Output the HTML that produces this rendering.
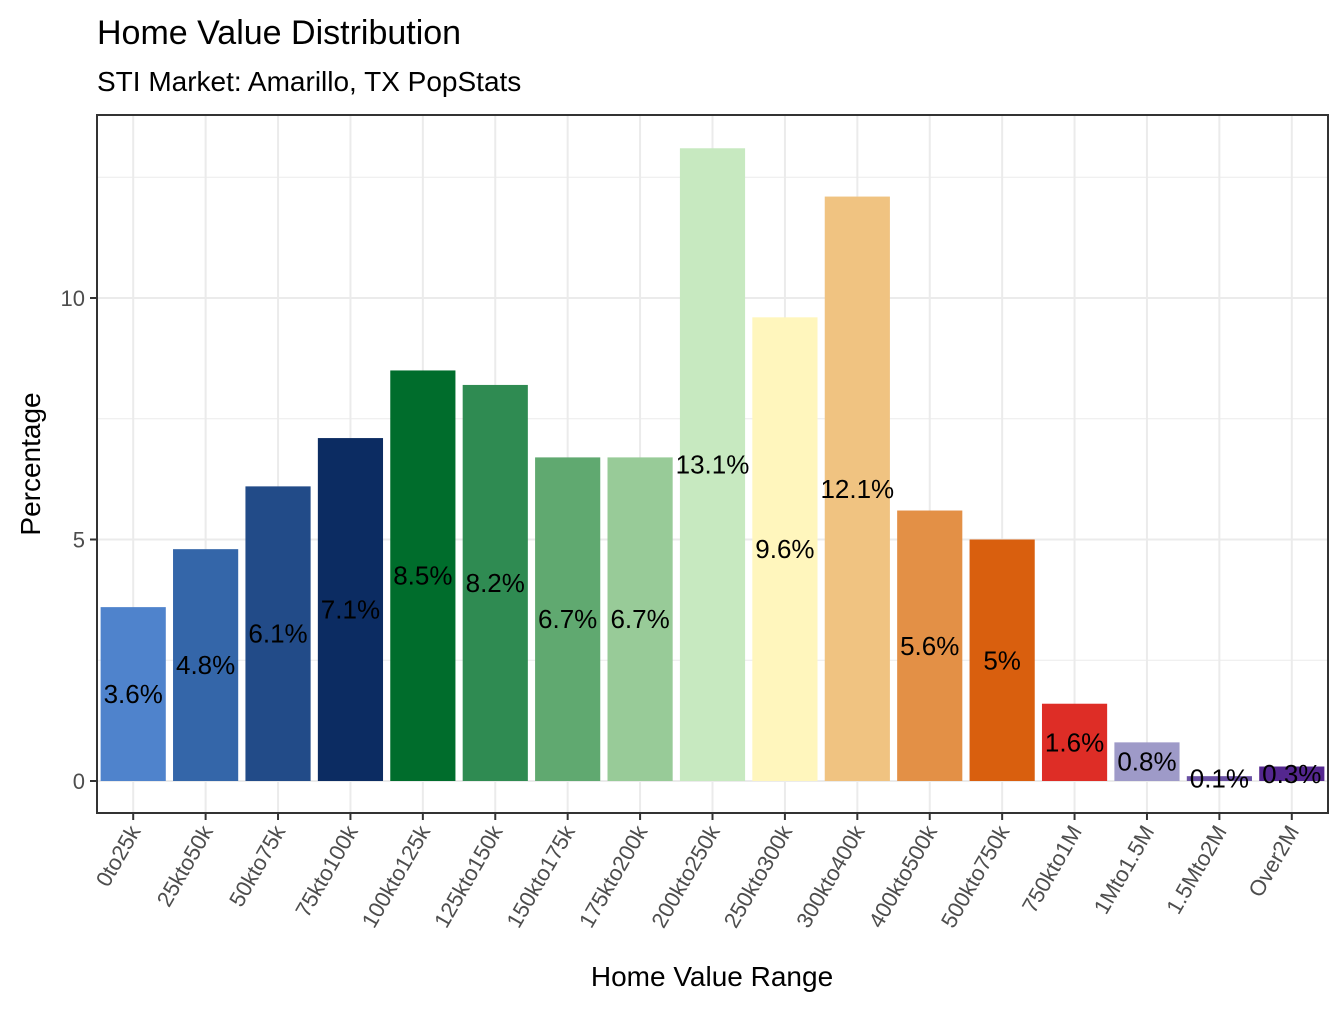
<!DOCTYPE html>
<html><head><meta charset="utf-8"><style>
body{margin:0;background:#fff}
svg text{font-family:"Liberation Sans",Arial,sans-serif}
</style></head><body>
<svg id="chart" width="1344" height="1008" viewBox="0 0 1344 1008" xmlns="http://www.w3.org/2000/svg">
<text x="97" y="44" font-size="34" fill="#000">Home Value Distribution</text>
<text x="97" y="91" font-size="28" fill="#000">STI Market: Amarillo, TX PopStats</text>
<text transform="translate(40,464) rotate(-90)" text-anchor="middle" font-size="28" fill="#000">Percentage</text>
<text x="712" y="986" text-anchor="middle" font-size="28" fill="#000">Home Value Range</text>
<g id="plot"></g>
</svg>
<script>
const categories=["0to25k","25kto50k","50kto75k","75kto100k","100kto125k","125kto150k","150kto175k","175kto200k","200kto250k","250kto300k","300kto400k","400kto500k","500kto750k","750kto1M","1Mto1.5M","1.5Mto2M","Over2M"];
const values=[3.6,4.8,6.1,7.1,8.5,8.2,6.7,6.7,13.1,9.6,12.1,5.6,5.0,1.6,0.8,0.1,0.3];
const colors=["#4f83cc","#3466a9","#224b88","#0c2c62","#006d2c","#2f8b52","#60a970","#98cb98","#c7e9c0","#fff6bd","#f0c381","#e39046","#d95f0e","#de2d26","#9e9ac8","#6a51a3","#54278f"];
const yTicks=[0,5,10];
const yMinor=[2.5,7.5,12.5];
const L=97,R=1328,T=115,B=813;
const y0=781,ppu=48.3;
const y=v=>y0-v*ppu;
const step=(R-L)/categories.length;
const x=i=>L+step*(i+0.5);
const bw=step*0.9;
const g=document.getElementById('plot');
const NS="http://www.w3.org/2000/svg";
function mk(t,a){const e=document.createElementNS(NS,t);for(const k in a)e.setAttribute(k,a[k]);g.appendChild(e);return e;}
yMinor.forEach(v=>{const e=mk('line',{x1:L,x2:R,y1:y(v),y2:y(v),stroke:'#ebebeb','stroke-width':1});

});
yTicks.forEach(v=>{const e=mk('line',{x1:L,x2:R,y1:y(v),y2:y(v),stroke:'#ebebeb','stroke-width':2});

});
categories.forEach((c,i)=>{const e=mk('line',{x1:x(i),x2:x(i),y1:T,y2:B,stroke:'#ebebeb','stroke-width':2});

});
values.forEach((v,i)=>{const r=mk('rect',{x:x(i)-bw/2,y:y(v),width:bw,height:v*ppu,fill:colors[i]});

});
values.forEach((v,i)=>{const t=mk('text',{x:x(i),y:y(v/2)+9,'text-anchor':'middle','font-size':26,fill:'#000'});
t.textContent=(Math.round(v*10)/10)+'%';

});
const b=mk('rect',{x:L,y:T,width:R-L,height:B-T,fill:'none',stroke:'#333','stroke-width':2});


yTicks.forEach(v=>{const l=mk('line',{x1:L-7,x2:L,y1:y(v),y2:y(v),stroke:'#333','stroke-width':2});


const t=mk('text',{x:L-12,y:y(v)+8,'text-anchor':'end','font-size':22,fill:'#4d4d4d'});
t.textContent=v;

});
categories.forEach((c,i)=>{const l=mk('line',{x1:x(i),x2:x(i),y1:B,y2:B+7,stroke:'#333','stroke-width':2});


const t=mk('text',{transform:`translate(${x(i)+8},${B+18}) rotate(-60)`,'text-anchor':'end','font-size':22,fill:'#4d4d4d'});
t.textContent=c;

});
</script>
</body></html>
